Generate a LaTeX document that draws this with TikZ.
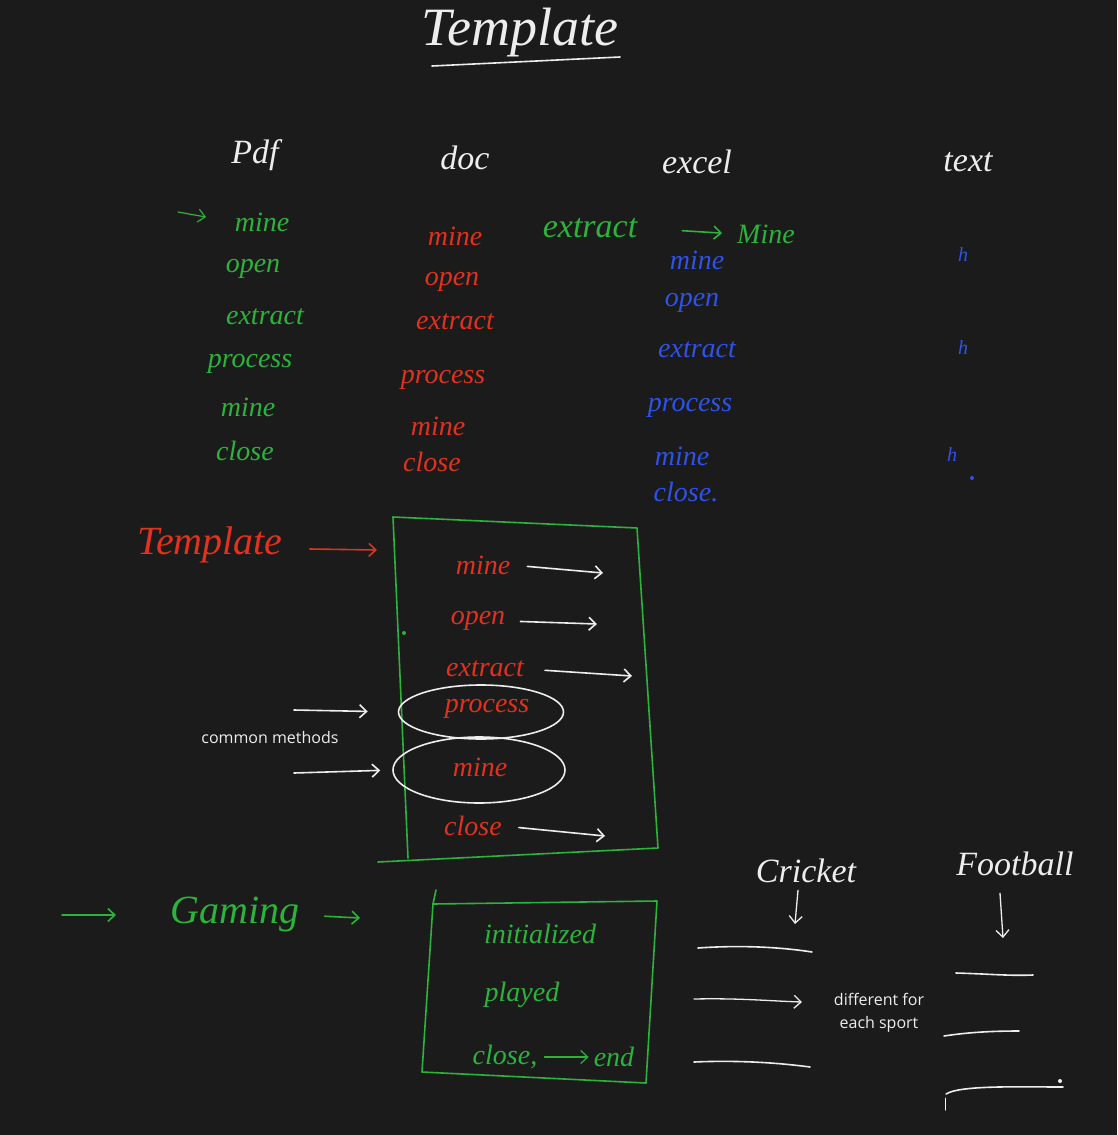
\documentclass[tikz,border=0pt]{standalone}
\usepackage{fontspec}
\setmainfont{Liberation Serif}
\newfontfamily\typedfont{Open Sans}
\usetikzlibrary{arrows.meta,positioning,shapes.geometric}
\definecolor{BoardBlack}{HTML}{1B1B1B}
\definecolor{InkGreen}{HTML}{2CB33C}
\definecolor{InkRed}{HTML}{E2311D}
\definecolor{InkBlue}{HTML}{2F52E8}
\definecolor{InkWhite}{HTML}{EDEDED}
\tikzset{hand/.style={font=\itshape\fontsize{28}{30}\selectfont,inner sep=1pt},
  head/.style={InkWhite,inner sep=1pt,font=\itshape\fontsize{34}{36}\selectfont},
  typed/.style={InkWhite,align=center,font=\typedfont\fontsize{16}{23}\selectfont},
  pen/.style={line width=1.6pt,line cap=round,line join=round},
  arr/.style={pen,-{Straight Barb[length=7pt,width=13pt]}},
  ring/.style={ellipse,draw=InkWhite,line width=1.6pt,inner sep=0pt}}
\begin{document}
\begin{tikzpicture}[x=1pt,y=-1pt]
\fill[BoardBlack] (0,0) rectangle (1117,1135);
\useasboundingbox (0,0) rectangle (1117,1135);
% title
\node[head,font=\itshape\fontsize{54}{56}\selectfont] (title) at (520,33) {Template};
\draw[pen,InkWhite] (432,66) -- (620,57);
% column heads
\node[head] (pdf) at (255,155) {Pdf};
\node[head] (doc) at (465,158) {doc};
\node[head] (excel) at (697,162) {excel};
\node[head] (txt) at (968,162) {text};
% pdf column
\node[hand,InkGreen] (pdfA) at (262,222) {mine};
\node[hand,InkGreen] (pdfB) at (253,269) {open};
\node[hand,InkGreen] (pdfC) at (265,317) {extract};
\node[hand,InkGreen] (pdfD) at (250,364) {process};
\node[hand,InkGreen] (pdfE) at (248,407) {mine};
\node[hand,InkGreen] (pdfF) at (245,451) {close};
\coordinate (pdfIn) at (178,212);
\draw[arr,InkGreen,line width=1.2pt,shorten >=28pt] (pdfIn) -- (pdfA.west);
% doc column
\node[hand,InkRed] (docA) at (455,236) {mine};
\node[hand,InkRed] (docB) at (452,282) {open};
\node[hand,InkRed] (docC) at (455,322) {extract};
\node[hand,InkRed] (docD) at (443,380) {process};
\node[hand,InkRed] (docE) at (438,426) {mine};
\node[hand,InkRed] (docF) at (432,462) {close};
% excel column
\node[hand,InkGreen,font=\itshape\fontsize{34}{36}\selectfont] (xlX) at (590,228) {extract};
\node[hand,InkGreen] (xlM) at (766,234) {Mine};
\draw[arr,InkGreen,shorten <=44pt,shorten >=14pt] (xlX.east) -- (xlM.west);
\node[hand,InkBlue] (xlA) at (697,260) {mine};
\node[hand,InkBlue] (xlB) at (692,303) {open};
\node[hand,InkBlue] (xlC) at (697,350) {extract};
\node[hand,InkBlue] (xlD) at (690,408) {process};
\node[hand,InkBlue] (xlE) at (682,456) {mine};
\node[hand,InkBlue] (xlF) at (686,492) {close.};
% text column
\node[hand,InkBlue,font=\itshape\fontsize{20}{22}\selectfont] (txA) at (963,255) {h};
\node[hand,InkBlue,font=\itshape\fontsize{20}{22}\selectfont] (txB) at (963,348) {h};
\node[hand,InkBlue,font=\itshape\fontsize{20}{22}\selectfont] (txC) at (952,455) {h};
\fill[InkBlue] (972,478) circle (2);
% template box
\node[hand,InkRed,font=\itshape\fontsize{40}{42}\selectfont] (tpl) at (210,545) {Template};
\coordinate (boxA) at (393,517);
\coordinate (boxB) at (637,528);
\coordinate (boxC) at (658,848);
\coordinate (boxD) at (378,862);
\draw[pen,InkGreen] (boxA) -- (boxB) -- (boxC) -- (boxD);
\draw[pen,InkGreen] (boxA) -- (408,858);
\draw[arr,InkRed] (tpl.east) ++(26,4) coordinate (tplOut) -- (377,550);
\fill[InkGreen] (404,633) circle (2);
\node[hand,InkRed] (bxA) at (483,565) {mine};
\node[hand,InkRed] (bxB) at (478,621) {open};
\node[hand,InkRed] (bxC) at (485,669) {extract};
\node[hand,InkRed] (bxD) at (487,709) {process};
\node[hand,InkRed] (bxE) at (480,767) {mine};
\node[hand,InkRed] (bxF) at (473,826) {close};
\coordinate (outA) at (603,573);
\coordinate (outB) at (597,624);
\coordinate (outC) at (632,676);
\coordinate (outF) at (605,836);
\draw[arr,InkWhite,shorten <=16pt] (bxA.east) -- (outA);
\draw[arr,InkWhite,shorten <=14pt] (bxB.east) -- (outB);
\draw[arr,InkWhite,shorten <=20pt] (bxC.east) -- (outC);
\draw[arr,InkWhite,shorten <=16pt] (bxF.east) -- (outF);
% common methods
\node[ring,minimum width=165,minimum height=54] (ringD) at (481,712) {};
\node[ring,minimum width=172,minimum height=66] (ringE) at (479,770) {};
\node[typed] (common) at (270,737) {common methods};
\coordinate (cmA) at (294,710);
\coordinate (cmB) at (294,773);
\draw[arr,InkWhite,shorten >=30pt] (cmA) -- (ringD.west);
\draw[arr,InkWhite,shorten >=12pt] (cmB) -- (ringE.west);
% gaming
\node[hand,InkGreen,font=\itshape\fontsize{40}{42}\selectfont] (game) at (235,915) {Gaming};
\coordinate (gameIn) at (62,915);
\coordinate (gameOut) at (360,918);
\draw[arr,InkGreen] (gameIn) -- (116,915);
\draw[arr,InkGreen,shorten <=24pt] (game.east) -- (gameOut);
\coordinate (gbA) at (433,904);
\coordinate (gbB) at (657,901);
\coordinate (gbC) at (646,1083);
\coordinate (gbD) at (422,1072);
\draw[pen,InkGreen] (gbA) -- (gbB) -- (gbC) -- (gbD) -- cycle;
\draw[pen,InkGreen] (436,890) -- (gbA);
\node[hand,InkGreen] (gmA) at (540,934) {initialized};
\node[hand,InkGreen] (gmB) at (522,995) {played};
\node[hand,InkGreen] (gmC) at (505,1057) {close,};
\node[hand,InkGreen] (gmD) at (614,1057) {end};
\draw[arr,InkGreen,line width=1.2pt,shorten <=6pt,shorten >=4pt] (gmC.east) -- (gmD.west);
% sports
\node[head] (cricket) at (806,871) {Cricket};
\node[head] (football) at (1015,864) {Football};
\coordinate (crDown) at (795,924);
\coordinate (fbDown) at (1003,938);
\draw[arr,InkWhite,line width=1.3pt] (cricket.south) ++(-8,6) -- (crDown);
\draw[arr,InkWhite,line width=1.3pt] (football.south) ++(-15,16) -- (fbDown);
\draw[pen,InkWhite] (698,948) .. controls (740,945) and (780,947) .. (812,952);
\draw[arr,InkWhite,line width=1.3pt] (694,999) .. controls (740,998) and (770,1001) .. (802,1002);
\draw[pen,InkWhite] (694,1062) .. controls (740,1060) and (780,1063) .. (810,1067);
\node[typed] (diff) at (879,1013) {different for\\each sport};
\draw[pen,InkWhite] (956,973) .. controls (990,974) and (1010,976) .. (1033,975);
\draw[pen,InkWhite] (944,1036) .. controls (970,1032) and (995,1031) .. (1019,1031);
\draw[pen,InkWhite] (946,1094) .. controls (960,1085) and (1020,1087) .. (1063,1087);
\draw[pen,InkWhite!60,line width=1pt] (945,1098) -- (945,1110);
\fill[InkWhite] (1060,1081) circle (2);
\end{tikzpicture}
\end{document}
